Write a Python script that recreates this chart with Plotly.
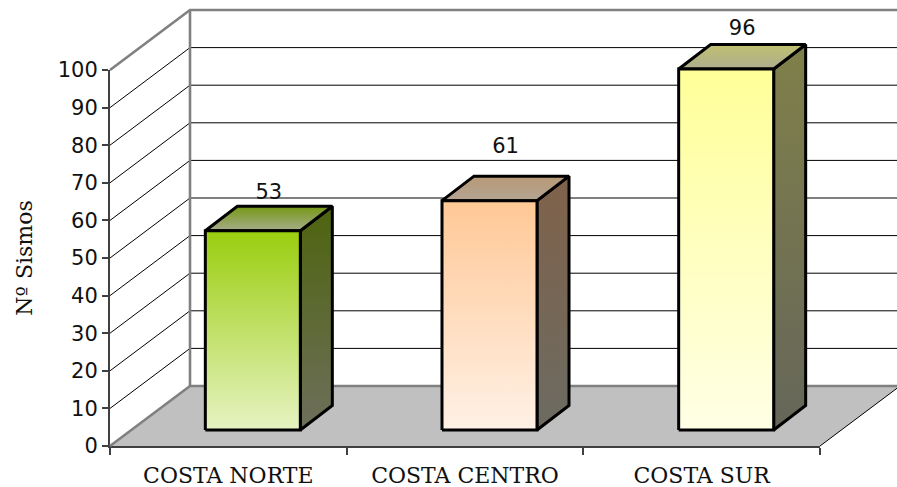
import plotly.graph_objects as go

categories = ["COSTA NORTE", "COSTA CENTRO", "COSTA SUR"]
values = [53, 61, 96]
label_heights = [67.1, 79.3, 110.8]
y_ticks = list(range(0, 101, 10))
gridlines = list(range(10, 100, 10))

W, H = 897, 487
L, R, T, B = 110, 820, 70, 446
xu = (R - L) / 3
yu = (B - T) / 100
def dx(p): return p / xu
def dy(p): return p / yu

wall_dx, wall_dy = dx(80), dy(60)
xmax = dx(W + 6 - L)
bar_w = dx(95)
bar_shift = dx(24.5)
base = dy(16)
depth_x, depth_y = dx(32), dy(24.5)

styles = [
    dict(front=("#9ACD0E", "#E6F3C2"), side=("#4E640E", "#6E6F5C"), top=("#759914", "#A6AB8A")),
    dict(front=("#FFC896", "#FFF1E6"), side=("#80624A", "#6C6B62"), top=("#B89A76", "#B3A393")),
    dict(front=("#FFFF99", "#FFFFE6"), side=("#80804A", "#66665A"), top=("#C0C070", "#ADAD90")),
]
GREY = "#808080"

fig = go.Figure()

# keeps the visible axes alive; the 3-D look is drawn on a full-canvas overlay with the same scale
fig.add_trace(go.Scatter(x=[0, 3], y=[0, 100], mode="markers", marker=dict(opacity=0), hoverinfo="skip", showlegend=False))

def line(xs, ys, color, width):
    fig.add_trace(go.Scatter(x=xs, y=ys, xaxis="x2", yaxis="y2", mode="lines", hoverinfo="skip",
                             line=dict(color=color, width=width), showlegend=False))

def poly(xs, ys, colors):
    fig.add_trace(go.Scatter(
        x=xs + xs[:1], y=ys + ys[:1], xaxis="x2", yaxis="y2", mode="lines", fill="toself", hoverinfo="skip",
        fillgradient=dict(type="vertical", colorscale=[[0, colors[1]], [1, colors[0]]]),
        line=dict(color="black", width=3), showlegend=False))

# floor
fig.add_trace(go.Scatter(
    x=[0, 3, 3 + wall_dx, wall_dx, 0], y=[0, 0, wall_dy, wall_dy, 0], xaxis="x2", yaxis="y2",
    mode="lines", fill="toself", fillcolor="#C0C0C0", hoverinfo="skip", line=dict(width=0), showlegend=False))
line([3, 3 + wall_dx], [0, wall_dy], "black", 1)

# gridlines
for g in gridlines:
    line([0, wall_dx, xmax], [g, g + wall_dy, g + wall_dy], "black", 1)

# wall frame
line([0, wall_dx, xmax], [100, 100 + wall_dy, 100 + wall_dy], GREY, 2.6)
line([wall_dx, wall_dx], [wall_dy, 100 + wall_dy], GREY, 2.6)
line([0, wall_dx, xmax], [0, wall_dy, wall_dy], GREY, 2.6)

# bars
for i, v in enumerate(values):
    x0 = i + 0.5 + bar_shift - bar_w / 2
    x1 = x0 + bar_w
    y0 = base
    y1 = base + v
    s = styles[i]
    poly([x1, x1 + depth_x, x1 + depth_x, x1], [y0, y0 + depth_y, y1 + depth_y, y1], s["side"])
    poly([x0, x1, x1 + depth_x, x0 + depth_x], [y1, y1, y1 + depth_y, y1 + depth_y], s["top"])
    poly([x0, x1, x1, x0], [y0, y0, y1, y1], s["front"])

# data labels
fig.add_trace(go.Scatter(
    x=[i + 0.5 + bar_shift + depth_x / 2 for i in range(3)], y=label_heights, xaxis="x2", yaxis="y2",
    mode="text", text=[str(v) for v in values], textposition="middle center",
    textfont=dict(family="DejaVu Sans", size=21, color="#111111"), hoverinfo="skip", showlegend=False))

fig.update_layout(
    width=W, height=H, paper_bgcolor="white", plot_bgcolor="rgba(0,0,0,0)",
    margin=dict(l=0, r=0, t=0, b=0, autoexpand=False), showlegend=False,
    font=dict(family="DejaVu Serif", color="#111111"),
    xaxis=dict(domain=[L / W, R / W], range=[0, 3], showgrid=False, zeroline=False, showline=True,
               linecolor="#404040", linewidth=2,
               tickmode="array", tickvals=[0.5, 1.5, 2.5], ticktext=categories, ticks="",
               ticklabelstandoff=9,
               tickfont=dict(family="DejaVu Serif", size=22),
               minor=dict(tickmode="array", tickvals=[0, 1, 2, 3], ticks="outside", ticklen=7,
                          tickcolor="#404040", tickwidth=1.5)),
    yaxis=dict(domain=[(H - B) / H, (H - T) / H], range=[0, 100], showgrid=False, zeroline=False, showline=True,
               linecolor="#404040", linewidth=2,
               tickmode="array", tickvals=y_ticks, ticks="outside", ticklen=6, tickcolor="#404040", tickwidth=1.5,
               tickfont=dict(family="DejaVu Sans", size=21),
               title=dict(text="Nº Sismos", font=dict(family="DejaVu Serif", size=22), standoff=19)),
    xaxis2=dict(domain=[0, 1], range=[-L / xu, (W - L) / xu], visible=False, anchor="y2"),
    yaxis2=dict(domain=[0, 1], range=[-(H - B) / yu, B / yu], visible=False, anchor="x2"),
)
fig.write_html("out.html", config={"displayModeBar": False},
               post_script="document.body.style.margin='0';document.documentElement.style.overflow='hidden';")
